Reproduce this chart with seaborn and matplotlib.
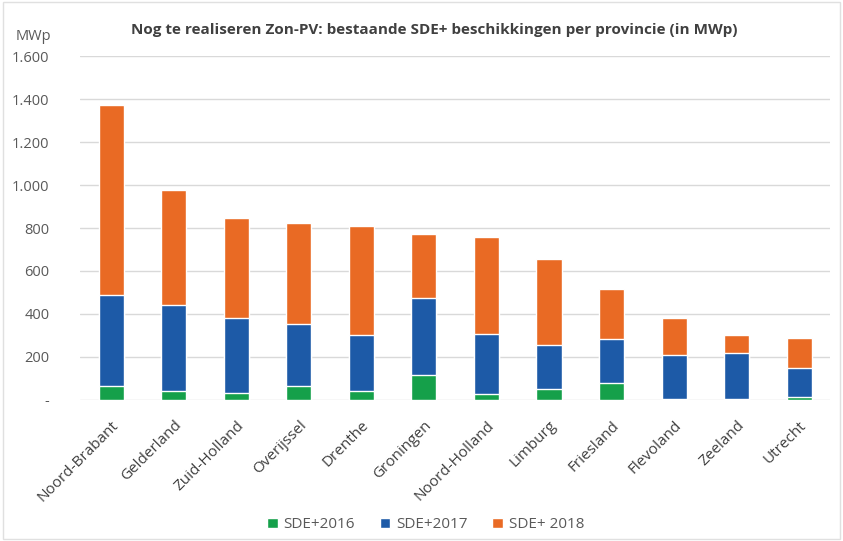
import numpy as np
import pandas as pd
import matplotlib
matplotlib.use("Agg")
import matplotlib.pyplot as plt
import seaborn as sns
from matplotlib.ticker import FuncFormatter

# values (MWp)
provincies = ["Noord-Brabant", "Gelderland", "Zuid-Holland", "Overijssel", "Drenthe", "Groningen",
              "Noord-Holland", "Limburg", "Friesland", "Flevoland", "Zeeland", "Utrecht"]
sde2016 = [65, 42, 31, 62, 39, 116, 26, 50, 78, 2, 3, 12]
sde2017 = [423, 400, 349, 291, 262, 358, 281, 203, 203, 206, 217, 134]
sde2018 = [884, 534, 468, 472, 510, 299, 453, 404, 237, 172, 82, 144]

kleuren = {"SDE+2016": "#15a04a", "SDE+2017": "#1d5aa7", "SDE+ 2018": "#e96a24"}

df = pd.DataFrame({"provincie": provincies, "SDE+2016": sde2016,
                   "SDE+2017": sde2017, "SDE+ 2018": sde2018})
df["tot2017"] = df["SDE+2016"] + df["SDE+2017"]
df["tot2018"] = df["tot2017"] + df["SDE+ 2018"]

sns.set_theme(style="white")
plt.rcParams["font.family"] = ["Open Sans", "DejaVu Sans"]

fig = plt.figure(figsize=(8.43, 5.41), dpi=100)
ax = fig.add_axes([0.095, 0.261, 0.89, 0.635])

# stacked bars: draw cumulative totals from the top down
sns.barplot(data=df, x="provincie", y="tot2018", color=kleuren["SDE+ 2018"], width=0.4,
            saturation=1, ax=ax, label="SDE+ 2018", zorder=3)
sns.barplot(data=df, x="provincie", y="tot2017", color=kleuren["SDE+2017"], width=0.4,
            saturation=1, ax=ax, label="SDE+2017", zorder=3)
sns.barplot(data=df, x="provincie", y="SDE+2016", color=kleuren["SDE+2016"], width=0.4,
            saturation=1, ax=ax, label="SDE+2016", zorder=3)

handles, labels = ax.get_legend_handles_labels()
if ax.get_legend() is not None:
    ax.get_legend().remove()

ax.set_ylim(0, 1600)
ax.set_yticks(np.arange(0, 1601, 200))
ax.yaxis.set_major_formatter(FuncFormatter(lambda v, p: "-" if v == 0 else f"{int(v):,}".replace(",", ".")))
ax.grid(axis="y", color="#d9d9d9", linewidth=1, zorder=0)
for s in ax.spines.values():
    s.set_visible(False)
ax.set_xlabel("")
ax.set_ylabel("")
ax.tick_params(axis="y", labelsize=10.5, labelcolor="#595959", length=0, pad=22)
ax.tick_params(axis="x", labelsize=11, labelcolor="#404040", length=0, pad=13)
plt.setp(ax.get_xticklabels(), rotation=45, ha="right", va="top", rotation_mode="anchor")

fig.text(0.018, 0.933, "MWp", fontsize=10.5, color="#595959", va="center")
fig.text(0.515, 0.945, "Nog te realiseren Zon-PV: bestaande SDE+ beschikkingen per provincie (in MWp)",
         fontsize=11, fontweight="bold", color="#404040", ha="center", va="center")

order = [labels.index(l) for l in ["SDE+2016", "SDE+2017", "SDE+ 2018"]]
fig.legend([handles[i] for i in order], [labels[i] for i in order], loc="center",
           bbox_to_anchor=(0.505, 0.03), ncol=3, frameon=False, fontsize=11,
           handlelength=0.7, handleheight=0.7, handletextpad=0.4, columnspacing=1.6,
           labelcolor="#595959")

fig.patches.append(plt.Rectangle((0.003, 0.003), 0.994, 0.994, transform=fig.transFigure,
                                 fill=False, edgecolor="#e0e0e0", linewidth=1))
fig.savefig("out.png", dpi=100)
